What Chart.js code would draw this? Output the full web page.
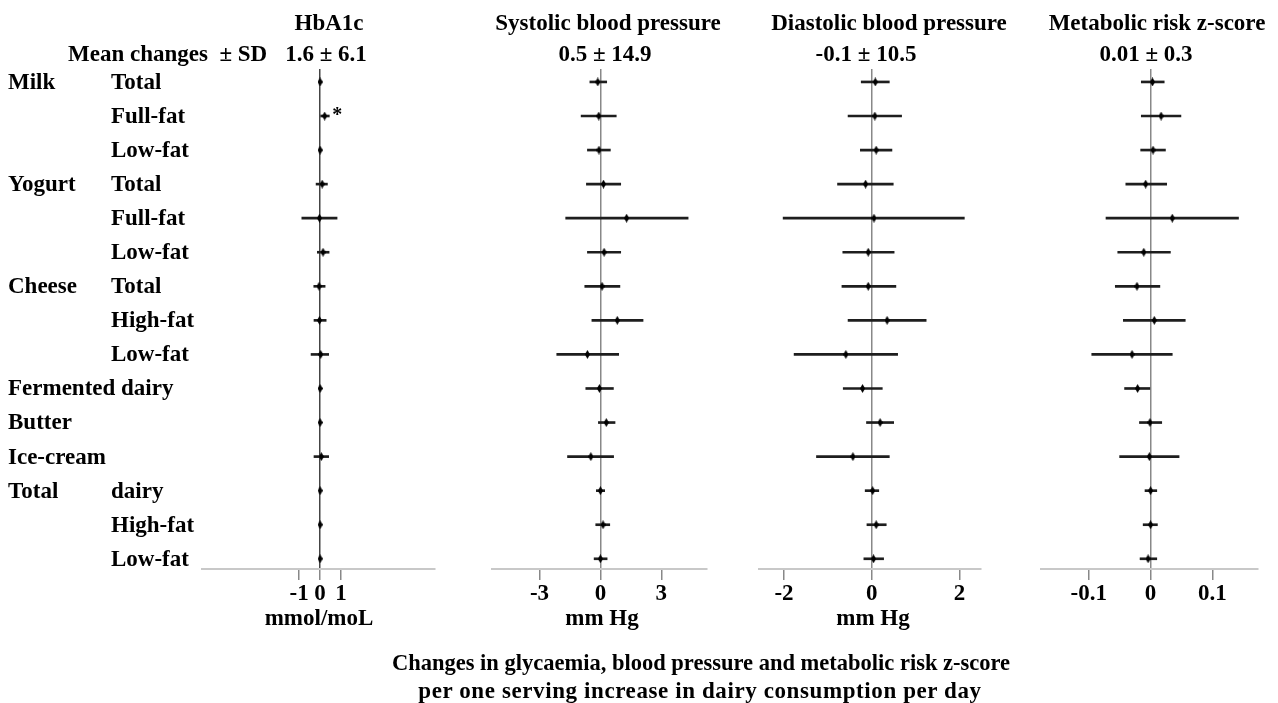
<!DOCTYPE html>
<html>
<head>
<meta charset="utf-8">
<script src="https://cdn.jsdelivr.net/npm/chart.js@4.4.1/dist/chart.umd.min.js"></script>
<style>
  body { margin: 0; background: #fff; width: 1278px; height: 703px; overflow: hidden; position: relative;
         font-family: "Liberation Serif", "Times New Roman", serif; font-weight: bold; color: #000; }
  canvas { position: absolute; left: 0; top: 0; }
  .t { position: absolute; white-space: nowrap; line-height: 1; transform: translate(-50%, -50%); font-size: 23px; }
  .l { position: absolute; white-space: nowrap; line-height: 1; transform: translate(0, -50%); font-size: 23px; }
  .cap1 { font-size: 22.5px; }
  .cap2 { font-size: 23px; letter-spacing: 0.6px; }
</style>
</head>
<body>
<canvas id="c0" width="1278" height="703"></canvas>
<canvas id="c1" width="1278" height="703"></canvas>
<canvas id="c2" width="1278" height="703"></canvas>
<canvas id="c3" width="1278" height="703"></canvas>
<div id="texts"></div>

<script>
// ========== DATA ==========
const groupLabels = ["Milk", "", "", "Yogurt", "", "", "Cheese", "", "", "Fermented dairy", "Butter", "Ice-cream", "Total", "", ""];
const subLabels = ["Total", "Full-fat", "Low-fat", "Total", "Full-fat", "Low-fat", "Total", "High-fat", "Low-fat", "", "", "", "dairy", "High-fat", "Low-fat"];

const panelTitles = ["HbA1c", "Systolic blood pressure", "Diastolic blood pressure", "Metabolic risk z-score"];
const meanChanges = ["1.6 \u00b1 6.1", "0.5 \u00b1 14.9", "-0.1 \u00b1 10.5", "0.01 \u00b1 0.3"];
const unitLabels = ["mmol/moL", "mm Hg", "mm Hg", ""];
const tickValues = [[-1, 0, 1], [-3, 0, 3], [-2, 0, 2], [-0.1, 0, 0.1]];

// HbA1c (mmol/mol)
const hba1cMean = [0, 0.22, 0, 0.10, -0.03, 0.14, -0.05, -0.03, 0.03, 0, 0, 0.06, 0, 0, 0];
const hba1cLow  = [-0.07, 0.03, -0.06, -0.19, -0.87, -0.13, -0.30, -0.29, -0.43, -0.06, -0.05, -0.29, -0.04, -0.05, -0.05];
const hba1cHigh = [0.07, 0.44, 0.06, 0.35, 0.81, 0.43, 0.24, 0.29, 0.41, 0.06, 0.05, 0.41, 0.04, 0.05, 0.05];
const hba1cSig  = [false, true, false, false, false, false, false, false, false, false, false, false, false, false, false];

// Systolic blood pressure (mm Hg)
const sbpMean = [-0.13, -0.08, -0.07, 0.15, 1.29, 0.18, 0.08, 0.83, -0.64, -0.05, 0.29, -0.47, 0, 0.13, 0];
const sbpLow  = [-0.52, -0.95, -0.64, -0.69, -1.71, -0.64, -0.77, -0.42, -2.15, -0.72, -0.10, -1.62, -0.20, -0.23, -0.31];
const sbpHigh = [0.31, 0.78, 0.49, 1.00, 4.32, 1.00, 0.96, 2.10, 0.90, 0.64, 0.72, 0.65, 0.21, 0.46, 0.33];

// Diastolic blood pressure (mm Hg)
const dbpMean = [0.08, 0.07, 0.10, -0.14, 0.05, -0.08, -0.08, 0.35, -0.59, -0.21, 0.19, -0.43, 0.02, 0.10, 0.04];
const dbpLow  = [-0.24, -0.54, -0.26, -0.78, -2.02, -0.66, -0.68, -0.54, -1.77, -0.65, -0.12, -1.26, -0.15, -0.11, -0.18];
const dbpHigh = [0.40, 0.68, 0.46, 0.49, 2.11, 0.51, 0.55, 1.24, 0.59, 0.24, 0.50, 0.40, 0.16, 0.33, 0.27];

// Metabolic risk z-score
const mrsMean = [0.003, 0.017, 0.004, -0.008, 0.035, -0.011, -0.022, 0.006, -0.030, -0.021, -0.001, -0.002, 0, 0, -0.004];
const mrsLow  = [-0.015, -0.015, -0.016, -0.040, -0.072, -0.053, -0.057, -0.044, -0.095, -0.042, -0.018, -0.050, -0.009, -0.012, -0.017];
const mrsHigh = [0.022, 0.049, 0.024, 0.026, 0.142, 0.032, 0.015, 0.056, 0.035, 0.000, 0.018, 0.046, 0.010, 0.011, 0.010];

// ========== LAYOUT ==========
const W = 1278, H = 703;
const fontFamily = '"Liberation Serif", "Times New Roman", serif';
const panels = [
    { id: "c0", left: 202, right: 435, min: -5.63, max: 5.48, mean: hba1cMean, lo: hba1cLow, hi: hba1cHigh, sig: hba1cSig, zero: "#444", titleX: 329, meanX: 326, unitX: 319 },
    { id: "c1", left: 492, right: 707, min: -5.34, max: 5.25, mean: sbpMean, lo: sbpLow, hi: sbpHigh, zero: "#888", titleX: 608, meanX: 605, unitX: 602 },
    { id: "c2", left: 759, right: 981, min: -2.57, max: 2.49, mean: dbpMean, lo: dbpLow, hi: dbpHigh, zero: "#888", titleX: 889, meanX: 866, unitX: 873 },
    { id: "c3", left: 1041, right: 1258, min: -0.177, max: 0.1735, mean: mrsMean, lo: mrsLow, hi: mrsHigh, zero: "#888", titleX: 1157, meanX: 1146, unitX: 1151 }
];

// ========== POINT STYLE ==========
const diamond = document.createElement("canvas");
diamond.width = 5;
diamond.height = 9;
const dctx = diamond.getContext("2d");
dctx.fillStyle = "#000";
dctx.beginPath();
dctx.moveTo(2.5, 0);
dctx.lineTo(5, 4.5);
dctx.lineTo(2.5, 9);
dctx.lineTo(0, 4.5);
dctx.closePath();
dctx.fill();

// ========== PLUGINS ==========
const rowLabelPlugin = {
    id: "rowLabels",
    afterDraw(chart) {
        const { ctx } = chart;
        const y = chart.scales.y;
        ctx.save();
        ctx.font = "bold 23px " + fontFamily;
        ctx.fillStyle = "#000";
        ctx.textBaseline = "middle";
        groupLabels.forEach((g, i) => {
            const py = y.getPixelForValue(i) + 1;
            if (g) ctx.fillText(g, 8, py);
            if (subLabels[i]) ctx.fillText(subLabels[i], 111, py);
        });
        ctx.restore();
    }
};

const sigPlugin = {
    id: "sigMarks",
    afterDatasetsDraw(chart, args, opts) {
        if (!opts.sig) return;
        const { ctx } = chart;
        const { x, y } = chart.scales;
        ctx.save();
        ctx.font = "bold 20px " + fontFamily;
        ctx.fillStyle = "#000";
        ctx.textBaseline = "middle";
        opts.sig.forEach((s, i) => {
            if (s) ctx.fillText("*", x.getPixelForValue(opts.hi[i]) + 3, y.getPixelForValue(i));
        });
        ctx.restore();
    }
};

// ========== CHARTS ==========
function makePanel(p, k) {
    const rows = groupLabels.map((g, i) => i);
    const ticks = tickValues[k];
    return new Chart(document.getElementById(p.id), {
        type: "bar",
        data: {
            datasets: [
                {
                    type: "bar",
                    data: rows.map(i => ({ y: i, x: [p.lo[i], p.hi[i]] })),
                    backgroundColor: "#1e1e1e",
                    borderWidth: 0,
                    barThickness: 2,
                    order: 2
                },
                {
                    type: "scatter",
                    data: rows.map(i => ({ y: i, x: p.mean[i] })),
                    pointStyle: diamond,
                    pointRadius: 4,
                    order: 1
                }
            ]
        },
        options: {
            indexAxis: "y",
            responsive: false,
            animation: false,
            devicePixelRatio: 1,
            layout: { padding: { left: p.left, right: W - p.right, top: 69, bottom: 95.4 } },
            scales: {
                y: { type: "linear", display: false, offset: false, reverse: true, min: -0.38, max: 14.3 },
                x: {
                    type: "linear",
                    offset: false,
                    min: p.min,
                    max: p.max,
                    afterBuildTicks: s => { s.ticks = ticks.map(v => ({ value: v })); },
                    grid: {
                        color: c => (c.tick && c.tick.value === 0 ? p.zero : "rgba(0,0,0,0)"),
                        lineWidth: 1.5,
                        tickColor: "#888",
                        tickWidth: 1.5,
                        tickLength: 11
                    },
                    border: { color: "#c8c8c8", width: 2 },
                    ticks: {
                        autoSkip: false,
                        maxRotation: 0,
                        padding: 0,
                        color: "#000",
                        font: { family: fontFamily, size: 23, weight: "bold" },
                        callback: v => String(v)
                    }
                }
            },
            plugins: {
                legend: { display: false },
                tooltip: { enabled: false },
                sigMarks: { sig: p.sig, hi: p.hi }
            }
        },
        plugins: k === 0 ? [rowLabelPlugin, sigPlugin] : [sigPlugin]
    });
}

panels.forEach((p, k) => makePanel(p, k));

// ========== TEXT ==========
const texts = document.getElementById("texts");
function addText(str, x, y, cls) {
    const d = document.createElement("div");
    d.className = cls;
    d.style.left = x + "px";
    d.style.top = y + "px";
    d.textContent = str;
    texts.appendChild(d);
}
panels.forEach((p, k) => {
    addText(panelTitles[k], p.titleX, 22, "t");
    addText(meanChanges[k], p.meanX, 53, "t");
    if (unitLabels[k]) addText(unitLabels[k], p.unitX, 617, "t");
});
addText("Mean changes \u00a0\u00b1 SD", 68, 53, "l");
addText("Changes in glycaemia, blood pressure and metabolic risk z-score", 701, 663, "t cap1");
addText("per one serving increase in dairy consumption per day", 700, 690, "t cap2");
</script>
</body>
</html>
